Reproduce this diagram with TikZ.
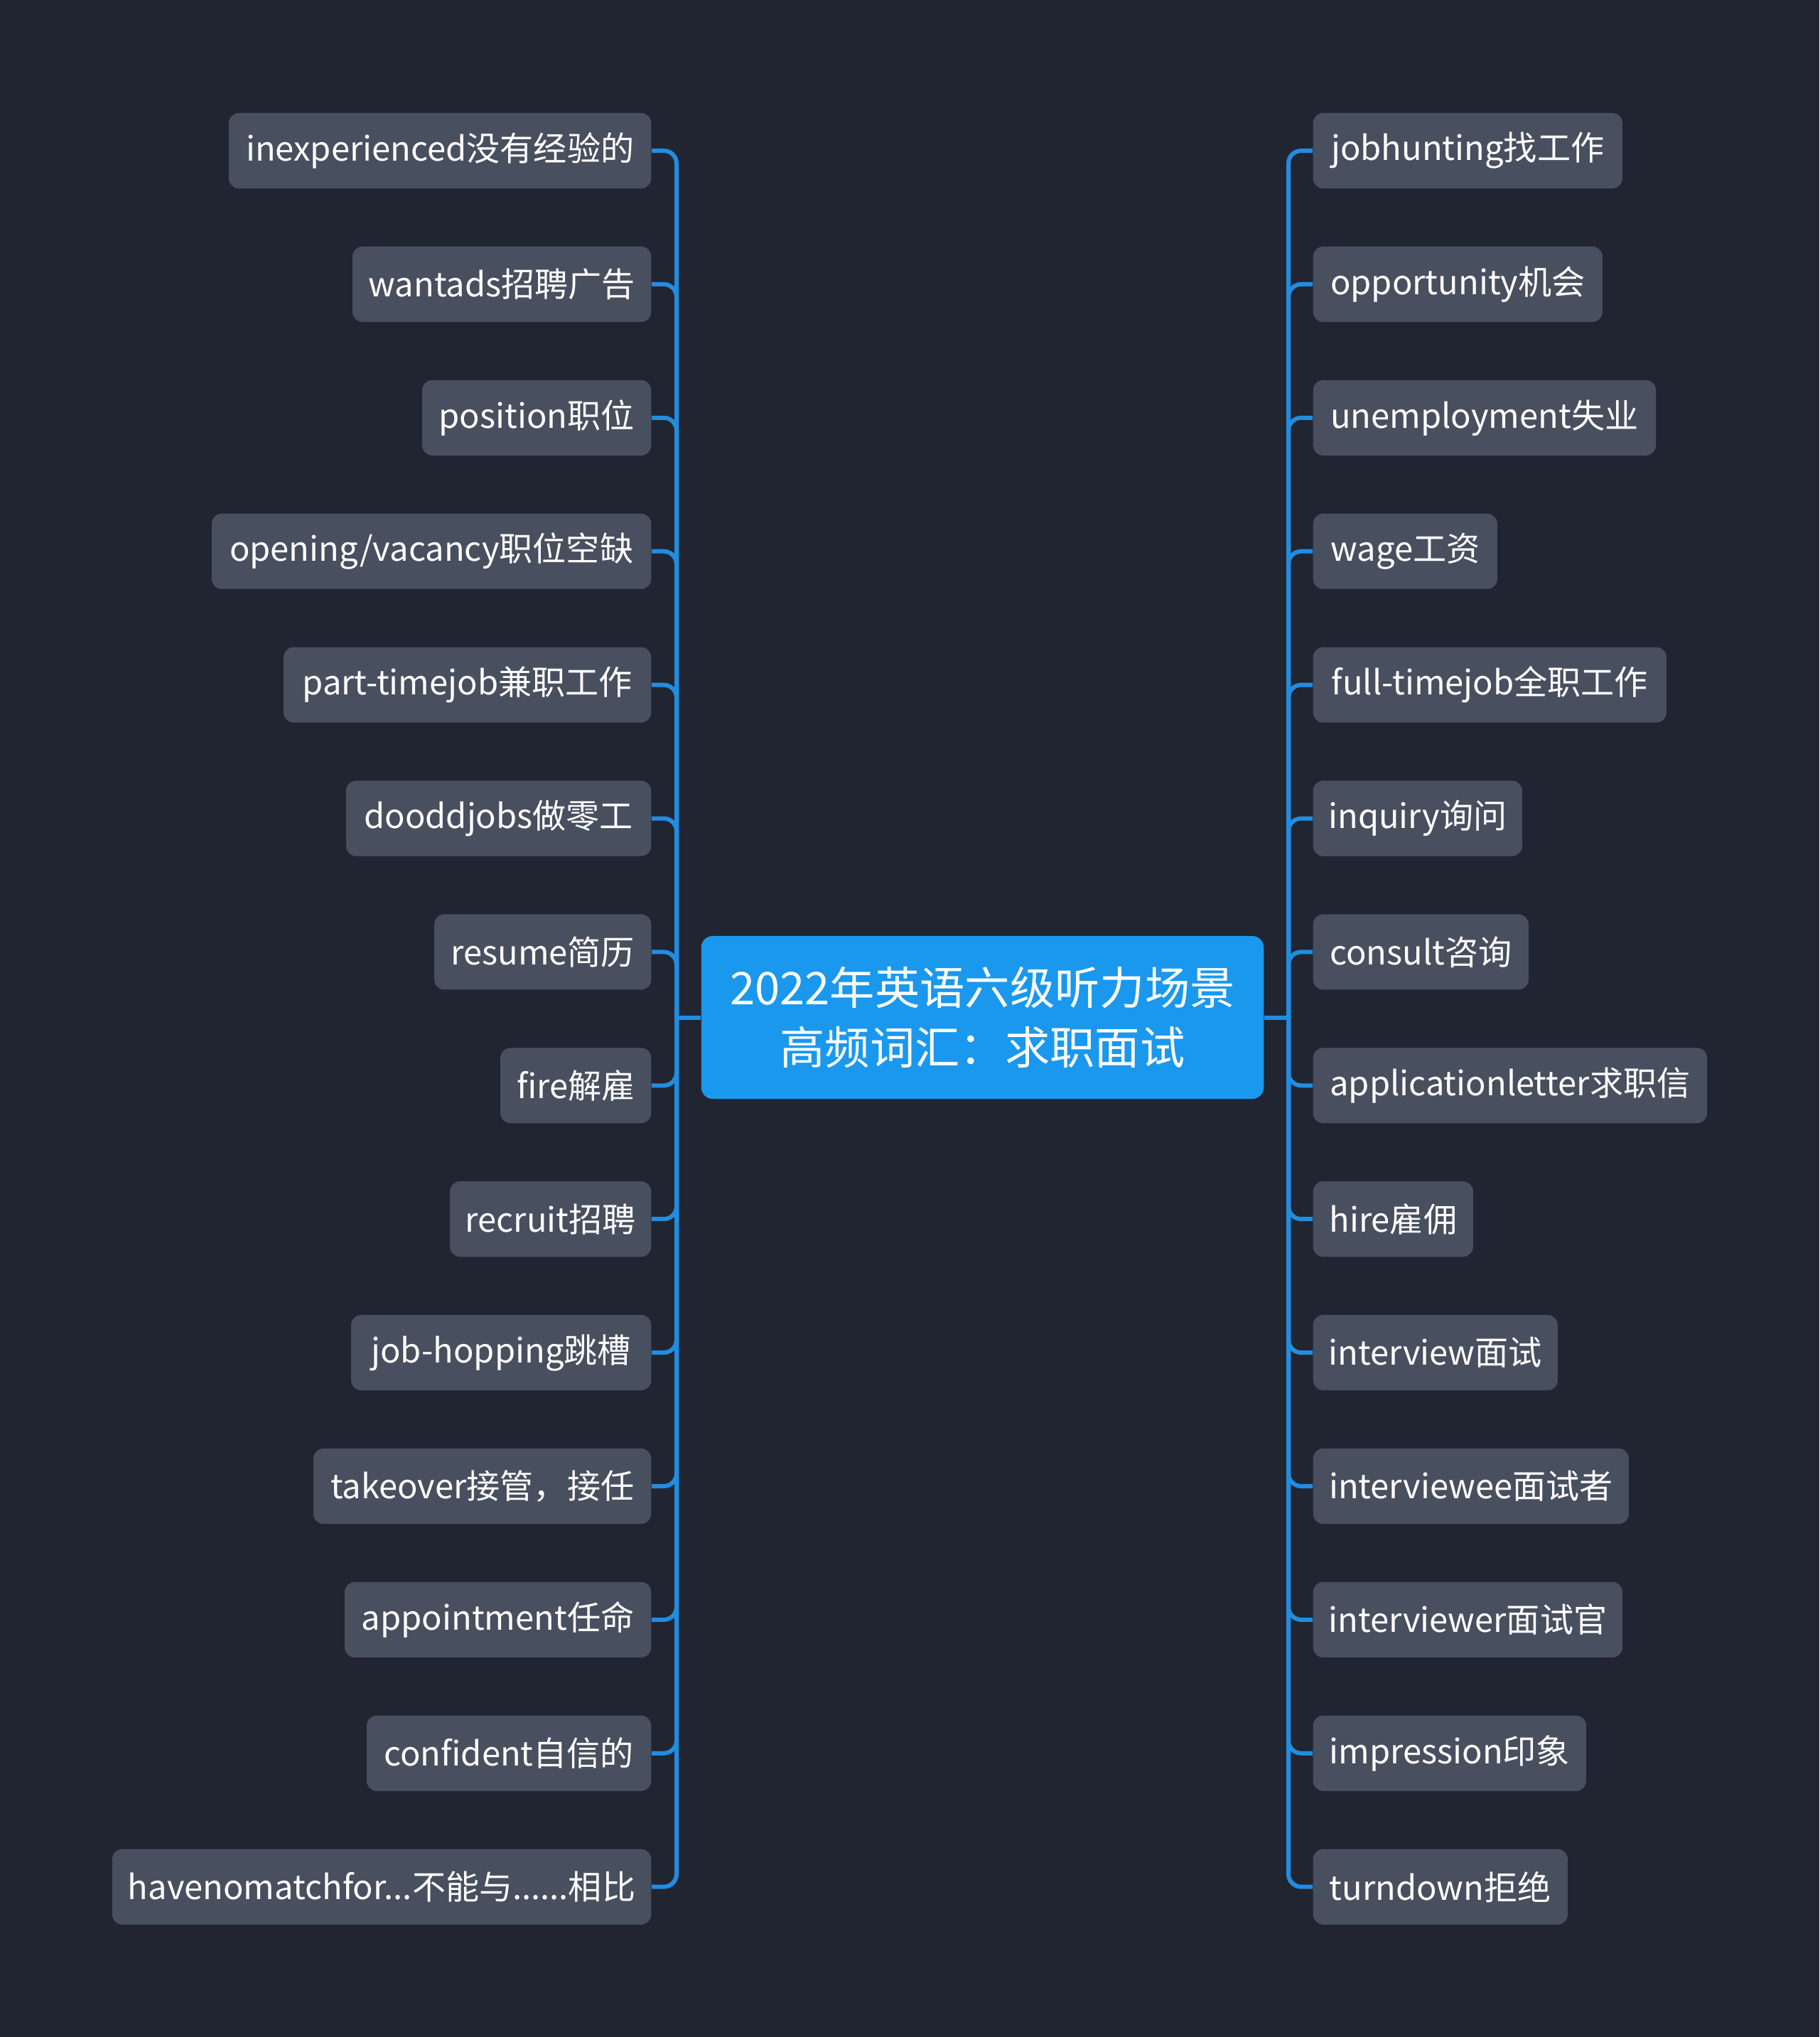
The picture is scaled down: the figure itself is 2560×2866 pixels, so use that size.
\documentclass[tikz,border=0pt]{standalone}
\usepackage{fontspec}
\setmainfont{Noto Sans CJK SC}
\definecolor{bg}{RGB}{33,37,49}
\definecolor{leaf}{RGB}{72,79,94}
\definecolor{hub}{RGB}{26,152,238}
\definecolor{wire}{RGB}{33,141,225}
\newcommand{\dotthree}{.\kern0pt.\kern0pt.}
\begin{document}
\begin{tikzpicture}[x=0.01cm,y=-0.01cm,
  leafbox/.style={fill=leaf, rounded corners=0.14cm, minimum height=1.06cm, inner xsep=0.15cm, text=white, font=\fontsize{13.4}{16}\selectfont},
  hubbox/.style={fill=hub, rounded corners=0.16cm, minimum width=7.91cm, minimum height=2.29cm, inner xsep=0.1cm, text=white, align=center, font=\fontsize{18}{23.9}\selectfont},
  wirestyle/.style={draw=wire, line width=0.06cm}]
\fill[bg] (0,0) rectangle (2560,2866);
\useasboundingbox (0,0) rectangle (2560,2866);
\coordinate (jl) at (952,1431.5);
\coordinate (jr) at (1813,1431.5);
\foreach \i/\w/\t in {1/5.94/inexperienced没有经验的, 2/4.20/wantads招聘广告, 3/3.22/position职位, 4/6.18/{opening/vacancy职位空缺}, 5/5.17/part-timejob兼职工作, 6/4.29/dooddjobs做零工, 7/3.05/resume简历, 8/2.12/fire解雇, 9/2.83/recruit招聘, 10/4.22/job-hopping跳槽, 11/4.75/takeover接管，接任, 12/4.31/appointment任命, 13/4.00/confident自信的, 14/7.58/{havenomatchfor\dotthree 不能与\dotthree\dotthree 相比}} {
  \draw[wirestyle, rounded corners=0.18cm] (jl) -- (952,{212+187.9*(\i-1)}) -- (917,{212+187.9*(\i-1)});
  \node[leafbox, minimum width=\w cm, anchor=east] (L\i) at (917,{212+187.9*(\i-1)}) {\t};
}
\foreach \i/\w/\t in {1/4.35/jobhunting找工作, 2/4.07/opportunity机会, 3/4.82/unemployment失业, 4/2.59/wage工资, 5/4.97/full-timejob全职工作, 6/2.94/inquiry询问, 7/3.03/consult咨询, 8/5.54/applicationletter求职信, 9/2.25/hire雇佣, 10/3.44/interview面试, 11/4.44/interviewee面试者, 12/4.35/interviewer面试官, 13/3.84/impression印象, 14/3.58/turndown拒绝} {
  \draw[wirestyle, rounded corners=0.18cm] (jr) -- (1813,{212+187.9*(\i-1)}) -- (1847,{212+187.9*(\i-1)});
  \node[leafbox, minimum width=\w cm, anchor=west] (R\i) at (1847,{212+187.9*(\i-1)}) {\t};
}
\node[hubbox] (hub) at (1382.5,1431.5) {2022年英语六级听力场景\\高频词汇：求职面试};
\draw[wirestyle] (hub.west) -- (jl);
\draw[wirestyle] (hub.east) -- (jr);
\end{tikzpicture}
\end{document}
